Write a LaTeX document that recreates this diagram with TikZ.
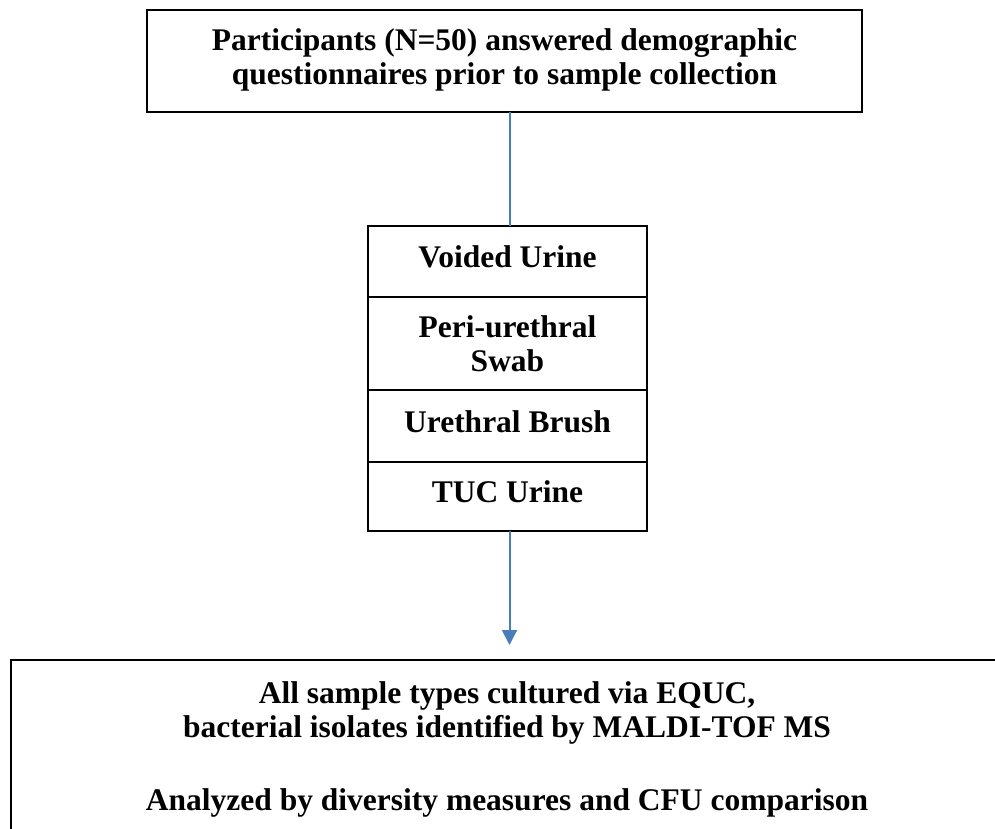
\documentclass[tikz,border=0pt]{standalone}
\usepackage{fontspec}
\setmainfont{Liberation Serif}
\usetikzlibrary{positioning, arrows.meta}
\definecolor{linkblue}{RGB}{74,126,187}

\begin{document}
\begin{tikzpicture}
        [
            x=1pt, y=-1pt,
            box/.style = {draw, black, line width=1.3pt, outer sep=0pt, inner sep=0pt, align=center,
                font=\fontsize{31.5}{34}\selectfont\bfseries, text height=22pt, text depth=10pt},
            sample/.style = {box, minimum width=279pt},
            link/.style = {draw=linkblue, line width=2pt},
            >={Triangle[width=15pt,length=15pt]}, node distance=0pt
        ]%
        \useasboundingbox (0,0) rectangle (995,829);
        \node[box, minimum width=715pt, minimum height=102pt, text height=56pt, text depth=8pt] (survey) at (504.5,61) {Participants (N=50) answered demographic\\ questionnaires prior to sample collection};
        \node[sample, minimum height=71pt, anchor=north] (voided) at (507.5,226) {Voided Urine};
        \node[sample, minimum height=93pt, below=of voided, text height=56pt, text depth=0pt] (swab) {Peri-urethral\\ Swab};
        \node[sample, minimum height=72pt, below=of swab] (brush) {Urethral Brush};
        \node[sample, minimum height=69pt, below=of brush] (tuc) {TUC Urine};
        \node[box, minimum width=992pt, inner ysep=20pt, text height=130pt, text depth=30pt, anchor=north] (analysis) at (507,660) {All sample types cultured via EQUC,\\ bacterial isolates identified by MALDI-TOF MS\\[39pt] Analyzed by diversity measures and CFU comparison};
        \coordinate[below=114pt of tuc.south, xshift=2pt] (tip);
        \draw[link] ([xshift=2pt]voided.north) -- ([xshift=2pt]voided.north |- survey.south);
        \draw[link, ->, fill=linkblue] ([xshift=2pt]tuc.south) -- (tip);
\end{tikzpicture}
\end{document}
